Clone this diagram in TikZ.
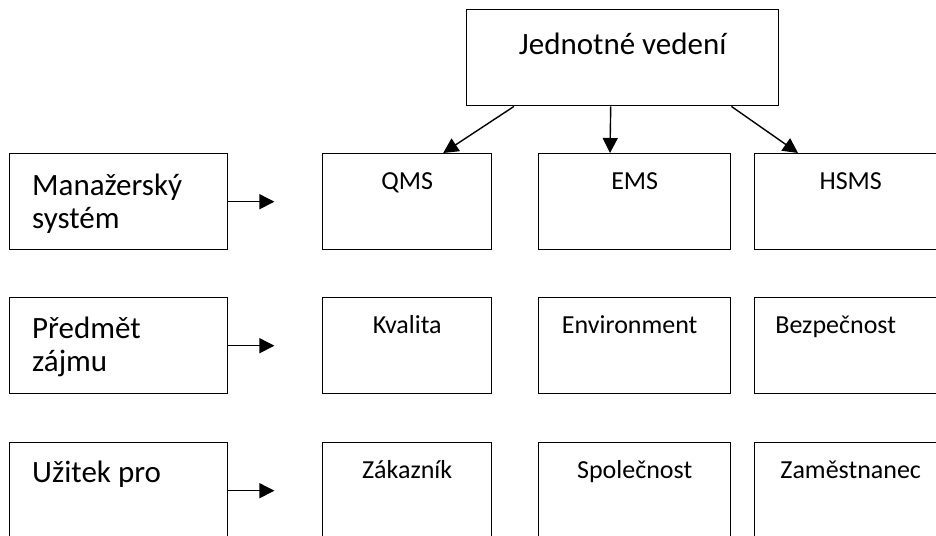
\documentclass[tikz,border=0pt]{standalone}
\usepackage{fontspec}
\setmainfont{Carlito}
\usetikzlibrary{calc, positioning, arrows.meta}

\begin{document}
\begin{tikzpicture}[x=1pt,y=-1pt,
  sysbox/.style={draw, line width=1.4pt, minimum width=#1, minimum height=96pt, inner sep=0pt, anchor=north west},
  bigtext/.style={font=\fontsize{31}{33}\selectfont, inner sep=0pt, align=left},
  smalltext/.style={font=\fontsize{26}{30}\selectfont, inner sep=0pt},
  linkarrow/.style={line width=1.4pt, -{Triangle[length=15pt,width=15pt]}}]
  \useasboundingbox (0,0) rectangle (936,535);
  \clip (0,0) rectangle (936,535);
  % top box
  \node[sysbox=312pt] (vedeni) at (466,9) {};
  \node[bigtext, anchor=base] (vedenitext) at ($(vedeni.north)+(0,46)$) {Jednotné vedení};
  % left column
  \node[sysbox=218pt] (ms) at (9,153) {};
  \node[sysbox=218pt] (pz) at (9,297) {};
  \node[sysbox=218pt] (up) at (9,442) {};
  \node[bigtext, anchor=base west] (mstext) at ($(ms.north west)+(23,75)$) {Manažerský\\systém};
  \node[bigtext, anchor=base west] (pztext) at ($(pz.north west)+(23,74)$) {Předmět\\zájmu};
  \node[bigtext, anchor=base west] (uptext) at ($(up.north west)+(23,40)$) {Užitek pro};
  % row 1
  \node[sysbox=169pt] (qms) at (322,153) {};
  \node[sysbox=192pt] (ems) at (538,153) {};
  \node[sysbox=192pt] (hsms) at (754,153) {};
  \node[smalltext, anchor=base] (qmstext) at ($(qms.north)+(0,36)$) {QMS};
  \node[smalltext, anchor=base] (emstext) at ($(ems.north)+(0,36)$) {EMS};
  \node[smalltext, anchor=base] (hsmstext) at ($(hsms.north)+(0,36)$) {HSMS};
  % row 2
  \node[sysbox=169pt] (kval) at (322,297) {};
  \node[sysbox=192pt] (envi) at (538,297) {};
  \node[sysbox=192pt] (bezp) at (754,297) {};
  \node[smalltext, anchor=base] (kvaltext) at ($(kval.north)+(0,36)$) {Kvalita};
  \node[smalltext, anchor=base] (envitext) at ($(envi.north)+(-5,36)$) {Environment};
  \node[smalltext, anchor=base] (bezptext) at ($(bezp.north)+(-15,36)$) {Bezpečnost};
  % row 3
  \node[sysbox=169pt] (zak) at (322,442) {};
  \node[sysbox=192pt] (spol) at (538,442) {};
  \node[sysbox=192pt] (zam) at (754,442) {};
  \node[smalltext, anchor=base] (zaktext) at ($(zak.north)+(0,36)$) {Zákazník};
  \node[smalltext, anchor=base] (spoltext) at ($(spol.north)+(0,36)$) {Společnost};
  \node[smalltext, anchor=base] (zamtext) at ($(zam.north)+(0,36)$) {Zaměstnanec};
  % arrows from the top box
  \draw[linkarrow] ($(vedeni.south west)+(48,0)$) -- ($(qms.north)+(36,0)$);
  \draw[linkarrow] ($(vedeni.south)+(-12,0)$) -- ($(ems.north west)+(72,0)$);
  \draw[linkarrow] ($(vedeni.south east)+(-48,0)$) -- ($(hsms.north west)+(44,0)$);
  % arrows from the left column
  \coordinate[right=46pt of ms.east] (msend);
  \coordinate[right=46pt of pz.east] (pzend);
  \coordinate[right=46pt of up.east] (upend);
  \draw[linkarrow] (ms) -- (msend);
  \draw[linkarrow] (pz) -- (pzend);
  \draw[linkarrow] (up) -- (upend);
\end{tikzpicture}
\end{document}
